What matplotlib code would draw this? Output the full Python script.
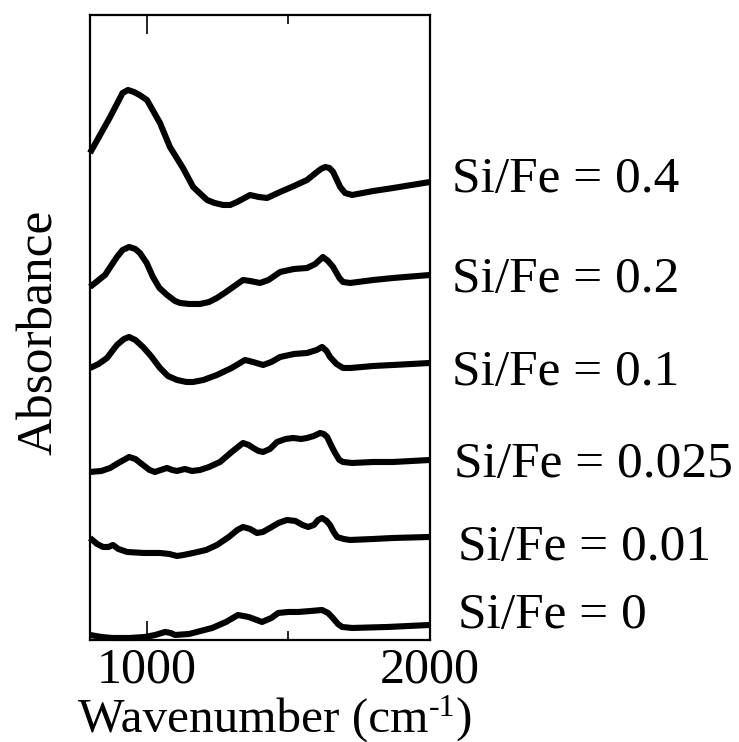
import matplotlib
matplotlib.use('Agg')
import matplotlib.pyplot as plt

plt.rcParams['font.family'] = 'Liberation Serif'

# wavenumber (cm-1) and absorbance (arb. units, offset stack)
wn_04 = [800, 871, 915, 934, 955, 975, 1001, 1047, 1082, 1128, 1164, 1213, 1240, 1270, 1295, 1319,
         1365, 1395, 1425, 1471, 1520, 1566, 1601, 1615, 1630, 1645, 1658, 1683, 1700, 1725, 1800, 1870, 2000]
abs_04 = [4.87, 5.23, 5.47, 5.50, 5.48, 5.45, 5.40, 5.17, 4.93, 4.72, 4.53, 4.40, 4.37, 4.35, 4.35, 4.38,
          4.45, 4.43, 4.42, 4.48, 4.54, 4.60, 4.68, 4.71, 4.73, 4.72, 4.68, 4.53, 4.47, 4.45, 4.49, 4.52, 4.58]

wn_02 = [800, 853, 895, 915, 938, 960, 976, 1000, 1022, 1045, 1072, 1100, 1118, 1150, 1188, 1220, 1248, 1280,
         1305, 1340, 1365, 1400, 1430, 1471, 1520, 1566, 1595, 1622, 1640, 1658, 1680, 1693, 1718, 1800, 1870, 2000]
abs_02 = [3.53, 3.65, 3.83, 3.90, 3.93, 3.91, 3.87, 3.77, 3.63, 3.52, 3.45, 3.39, 3.37, 3.36, 3.36, 3.38, 3.42, 3.48,
          3.53, 3.60, 3.59, 3.57, 3.60, 3.68, 3.71, 3.72, 3.76, 3.83, 3.79, 3.73, 3.62, 3.58, 3.57, 3.60, 3.62, 3.65]

wn_01 = [800, 830, 860, 895, 920, 938, 960, 987, 1015, 1047, 1075, 1107, 1140, 1164, 1200, 1248, 1300,
         1347, 1375, 1411, 1440, 1471, 1520, 1566, 1600, 1619, 1635, 1647, 1670, 1693, 1720, 1800, 1870, 2000]
abs_01 = [2.72, 2.76, 2.82, 2.95, 3.01, 3.03, 3.00, 2.93, 2.84, 2.72, 2.64, 2.60, 2.58, 2.58, 2.60, 2.65, 2.72,
          2.80, 2.78, 2.75, 2.78, 2.83, 2.86, 2.87, 2.90, 2.93, 2.89, 2.83, 2.76, 2.72, 2.72, 2.74, 2.75, 2.77]

wn_0025 = [800, 840, 871, 900, 938, 960, 987, 1010, 1029, 1050, 1072, 1090, 1107, 1135, 1160, 1188, 1220, 1259,
           1300, 1340, 1360, 1376, 1395, 1411, 1435, 1460, 1490, 1517, 1545, 1566, 1590, 1612, 1625, 1637,
           1652, 1665, 1680, 1693, 1725, 1800, 1870, 2000]
abs_0025 = [1.68, 1.69, 1.72, 1.77, 1.83, 1.81, 1.75, 1.70, 1.68, 1.70, 1.72, 1.70, 1.69, 1.71, 1.69, 1.70, 1.73, 1.78,
            1.88, 1.97, 1.95, 1.92, 1.89, 1.88, 1.91, 1.98, 2.01, 2.02, 2.01, 2.02, 2.04, 2.07, 2.06, 2.03,
            1.94, 1.87, 1.80, 1.78, 1.77, 1.78, 1.78, 1.80]

wn_001 = [800, 825, 846, 865, 881, 900, 931, 990, 1047, 1080, 1107, 1130, 1164, 1210, 1248, 1290, 1320, 1340,
          1365, 1389, 1410, 1435, 1465, 1495, 1525, 1550, 1570, 1590, 1605, 1619, 1635, 1647, 1660, 1672,
          1695, 1718, 1800, 1870, 2000]
abs_001 = [1.02, 0.96, 0.93, 0.93, 0.95, 0.91, 0.88, 0.87, 0.87, 0.86, 0.84, 0.85, 0.87, 0.90, 0.95, 1.03, 1.10, 1.13,
           1.11, 1.07, 1.08, 1.12, 1.17, 1.20, 1.19, 1.15, 1.13, 1.15, 1.20, 1.22, 1.19, 1.15, 1.08, 1.03,
           1.01, 1.00, 1.01, 1.02, 1.03]

wn_0 = [800, 840, 878, 940, 994, 1030, 1065, 1085, 1100, 1150, 1231, 1280, 1322, 1360, 1407, 1440, 1464,
        1500, 1535, 1580, 1619, 1640, 1654, 1675, 1690, 1725, 1850, 2000]
abs_0 = [0.05, 0.03, 0.02, 0.02, 0.03, 0.05, 0.08, 0.07, 0.05, 0.06, 0.12, 0.18, 0.25, 0.23, 0.18, 0.22, 0.27,
         0.28, 0.28, 0.29, 0.30, 0.27, 0.23, 0.16, 0.13, 0.12, 0.13, 0.15]

labels = ['Si/Fe = 0.4', 'Si/Fe = 0.2', 'Si/Fe = 0.1', 'Si/Fe = 0.025', 'Si/Fe = 0.01', 'Si/Fe = 0']
series = [(wn_04, abs_04), (wn_02, abs_02), (wn_01, abs_01),
          (wn_0025, abs_0025), (wn_001, abs_001), (wn_0, abs_0)]

# where the labels sit (baseline, data units) and how far right of the frame
label_y = [4.48, 3.48, 2.55, 1.63, 0.80, 0.12]
label_dx = [16, 16, 16, 17, 20, 20]

fig = plt.figure(figsize=(7.39, 7.42), dpi=100)
ax = fig.add_axes([0.1218, 0.1375, 0.4601, 0.8423])

for (x, y) in series:
    ax.plot(x, y, color='black', lw=4.4, solid_joinstyle='round', solid_capstyle='butt', clip_on=False)

for lab, ly, dx in zip(labels, label_y, label_dx):
    ax.annotate(lab, xy=(1, ly), xycoords=('axes fraction', 'data'), xytext=(dx, 0),
                textcoords='offset points', ha='left', va='baseline', fontsize=37)

ax.set_xlim(800, 2000)
ax.set_ylim(0, 6.25)
ax.set_xticks([1000, 2000])
ax.set_xticks([1500], minor=True)
ax.set_yticks([])
ax.tick_params(axis='x', which='major', direction='in', top=True, length=13.5, width=1.2,
               labelsize=36, pad=5)
ax.tick_params(axis='x', which='minor', direction='in', top=True, length=6.5, width=1.2)
for s in ax.spines.values():
    s.set_linewidth(1.6)

# x label built from pieces so the superscript is a plain "-1"
W, H = 739, 742
base = 1 - 732 / H
r = fig.canvas.get_renderer()
t1 = fig.text(78 / W, base, 'Wavenumber (cm', ha='left', va='baseline', fontsize=35.5)
x1 = t1.get_window_extent(r).x1
t2 = fig.text(x1 / W + 0.001, base + 16 / H, '-1', ha='left', va='baseline', fontsize=23)
x2 = t2.get_window_extent(r).x1
fig.text(x2 / W, base, ')', ha='left', va='baseline', fontsize=35.5)

fig.text(40 / W, 1 - 332 / H, 'Absorbance', ha='center', va='center', rotation=90, fontsize=37)

fig.savefig('out.png', dpi=100)
